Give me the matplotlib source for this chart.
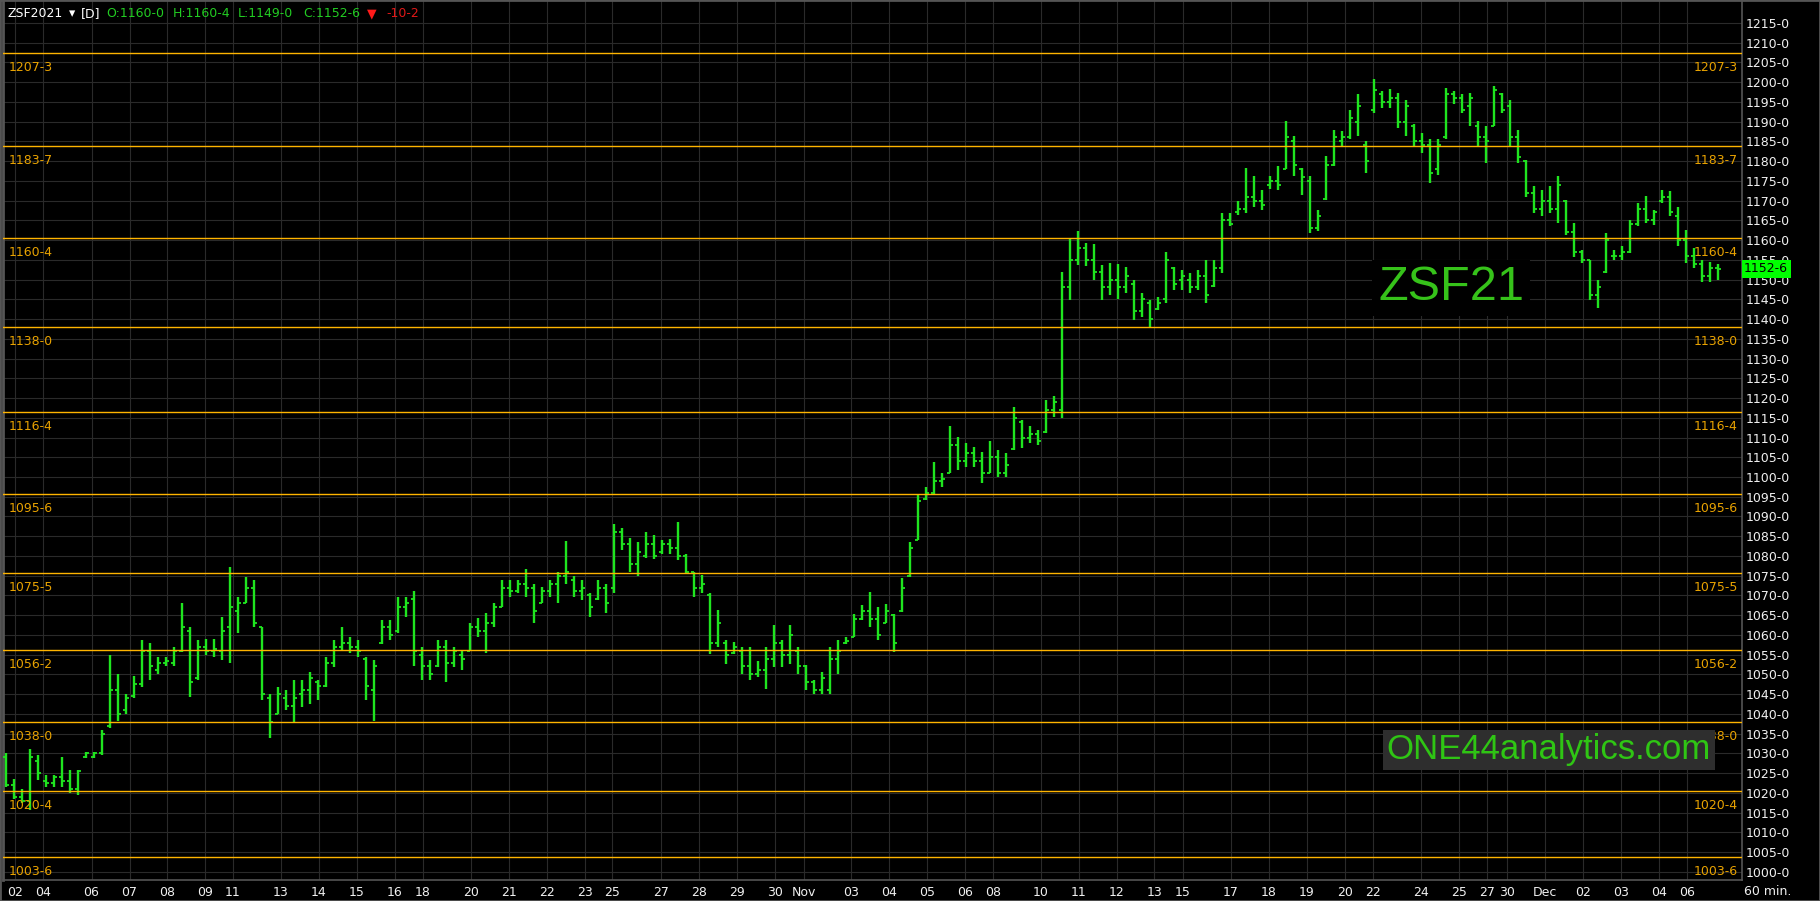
import matplotlib
matplotlib.use("Agg")
import matplotlib.pyplot as plt
import numpy as np

# ZSF2021 60 min bars (one bar per ~4 hourly bars)
highs = [
    1030, 1023.6, 1021, 1031.2, 1029.5, 1024.5, 1024.5, 1029.1, 1025.8, 1025.8,
    1030.4, 1030.4, 1036, 1054.9, 1050, 1045, 1049.5, 1058.7, 1058, 1054.5,
    1054.5, 1057, 1068, 1062, 1058.7, 1059, 1059, 1064.6, 1077.3, 1069.7,
    1074.6, 1073.9, 1062, 1045, 1046.8, 1046, 1048.5, 1048.5, 1050.6, 1048.5,
    1054.4, 1058.7, 1062, 1059.5, 1058.7, 1054.4, 1053.6, 1063.8, 1063.8, 1069.7,
    1069.7, 1071.2, 1057, 1053.6, 1058.7, 1058.7, 1057, 1056, 1062.9, 1064.2,
    1065.5, 1068, 1074, 1074, 1074, 1076.6, 1073, 1072.2, 1074, 1076,
    1083.7, 1074.8, 1074, 1070.5, 1074, 1073, 1088, 1087, 1084.5, 1083.5,
    1086, 1085.3, 1084, 1084.4, 1088.6, 1080.6, 1076, 1075.1, 1070.5, 1066.2,
    1058.6, 1058.2, 1056.9, 1056.9, 1053.5, 1056.9, 1062.4, 1058.6, 1062.4, 1056.9,
    1052.3, 1048.5, 1050.6, 1056.9, 1058.6, 1059.5, 1065.4, 1067.5, 1070.9, 1067,
    1067.9, 1065.4, 1074.3, 1083.6, 1095.8, 1097.5, 1103.9, 1100.9, 1112.8, 1110.2,
    1108.5, 1107.7, 1106.4, 1109, 1106.8, 1106, 1117.8, 1114.5, 1112.8, 1112,
    1119.5, 1120.4, 1152, 1160.6, 1162.3, 1159.3, 1158.9, 1153.8, 1154.2, 1154,
    1153.3, 1149.9, 1146.5, 1144.8, 1145.7, 1157.1, 1153.3, 1152.5, 1151.6, 1152.5,
    1155, 1155, 1166.9, 1166.9, 1169.8, 1178.3, 1176.2, 1172.8, 1176.2, 1178.7,
    1190.1, 1186.3, 1178.3, 1176.2, 1167.7, 1181.2, 1188, 1187.6, 1193, 1196.9,
    1185, 1200.7, 1197.8, 1198.2, 1197.3, 1195.6, 1189.3, 1187.2, 1185.5, 1185.5,
    1198.6, 1197.8, 1196.9, 1197.3, 1190.1, 1188.9, 1199, 1197.3, 1195.6, 1188,
    1180.4, 1173.6, 1172.8, 1173.6, 1176.2, 1170.2, 1164.3, 1157.5, 1155, 1149.9,
    1161.8, 1157.5, 1158.4, 1165.2, 1169.4, 1171.1, 1167.7, 1172.8, 1172.4, 1168.5,
    1162.6, 1158, 1155, 1154.5, 1154,
]
lows = [
    1021.5, 1018.5, 1017.3, 1015.6, 1023.2, 1021.5, 1021.5, 1021.5, 1020, 1019.4,
    1028.7, 1028.7, 1029.5, 1036.5, 1038.3, 1040, 1044, 1046.8, 1048.5, 1050,
    1052, 1052, 1055.7, 1044.3, 1048.5, 1055, 1054.4, 1053.6, 1053, 1060.4,
    1068, 1062, 1043.4, 1034, 1040, 1041, 1037.7, 1041.7, 1042.6, 1043.4,
    1046.8, 1051.9, 1056, 1055.3, 1054.4, 1043.4, 1038.2, 1057.8, 1058.7, 1060.4,
    1064.6, 1052, 1048.5, 1048.5, 1051.9, 1048, 1051.9, 1051, 1056, 1059.5,
    1055.3, 1062, 1067, 1069.7, 1070.5, 1069.7, 1062.9, 1068, 1069.7, 1068,
    1073, 1069.7, 1068.8, 1064.6, 1068.8, 1065.5, 1070.5, 1081.5, 1076, 1075,
    1079.5, 1079.3, 1080.6, 1080.6, 1079, 1075.6, 1069.6, 1070.5, 1055.2, 1057,
    1052.7, 1055.2, 1050.2, 1048.5, 1049.3, 1046.4, 1051.8, 1051.8, 1052.7, 1050.2,
    1046, 1045.1, 1045.1, 1045.1, 1050.2, 1057.8, 1059.5, 1063.7, 1062, 1058.6,
    1062.9, 1055.7, 1065.8, 1074.7, 1084, 1094.2, 1095.8, 1097.5, 1100.9, 1101.8,
    1102.6, 1102.6, 1098.4, 1100.9, 1100, 1100, 1106.8, 1107.3, 1108.5, 1108.1,
    1111.1, 1115.3, 1115, 1144.9, 1153.8, 1153.4, 1150, 1144.9, 1146.2, 1145,
    1146.5, 1139.8, 1140.6, 1138.1, 1142.3, 1144, 1147.4, 1147.4, 1146.5, 1147.4,
    1144, 1148.2, 1151.6, 1163.5, 1166.4, 1166.9, 1168.5, 1167.7, 1173, 1172.8,
    1177.9, 1176.2, 1171.5, 1161.8, 1162.2, 1170.2, 1178.7, 1183.8, 1185.5, 1186.3,
    1177, 1192.2, 1193.5, 1193.5, 1188.4, 1186.3, 1183.8, 1182.1, 1174.5, 1176.6,
    1185.5, 1194.4, 1192.2, 1188.9, 1183.8, 1179.5, 1188.9, 1192.2, 1183.8, 1179.5,
    1171, 1166.9, 1166, 1166.9, 1164.3, 1161.3, 1155.8, 1154.1, 1144.8, 1142.7,
    1151.6, 1155, 1155, 1156.7, 1163.5, 1164.3, 1163.9, 1169.4, 1166, 1158.4,
    1154.1, 1153, 1149.5, 1149.5, 1150,
]
opens = [
    1029, 1022, 1019, 1018, 1028, 1023, 1022.5, 1024, 1023, 1021,
    1029, 1029, 1030, 1037, 1046, 1041, 1044.5, 1047.5, 1056, 1051,
    1053, 1053, 1056, 1061, 1049, 1057, 1056, 1056, 1062, 1066,
    1068, 1072, 1062, 1044, 1040, 1044, 1042, 1045, 1046, 1048,
    1047, 1053, 1057, 1058, 1057, 1054, 1046, 1058, 1062, 1061,
    1067, 1069, 1055, 1052, 1052, 1057, 1053, 1055, 1056, 1062,
    1061, 1063, 1067, 1072, 1071, 1073, 1072, 1068, 1071, 1073,
    1075, 1074, 1071, 1070, 1069, 1072, 1072, 1086, 1083, 1078,
    1080, 1083, 1081, 1083, 1082, 1080, 1076, 1072, 1070, 1058,
    1058, 1055.5, 1056, 1052, 1050, 1051, 1054, 1058, 1055, 1056,
    1052, 1048, 1046, 1046, 1054, 1058, 1059.5, 1064, 1066, 1064,
    1063, 1065, 1066, 1075, 1084, 1094.5, 1096, 1099, 1101, 1108,
    1104, 1106, 1104, 1101, 1105, 1101, 1107, 1114, 1110, 1111,
    1111.5, 1117, 1117, 1148, 1155, 1158, 1155, 1152, 1148, 1150,
    1148, 1149, 1142, 1144, 1142.5, 1145, 1153, 1150, 1150, 1148,
    1151, 1148.5, 1153, 1165, 1167, 1168, 1171, 1170, 1174, 1175,
    1178, 1185, 1178, 1175, 1163, 1170.5, 1179, 1185, 1186, 1190,
    1184, 1193, 1197, 1195, 1196, 1190, 1189, 1185, 1184, 1178,
    1186, 1197, 1196, 1194, 1189, 1186, 1189, 1197, 1194, 1186,
    1180, 1172, 1168, 1170, 1168, 1170, 1162, 1157, 1155, 1146,
    1152, 1156, 1156, 1157, 1164, 1168, 1165, 1170, 1171, 1166,
    1160, 1156, 1154, 1151, 1153,
]
closes = [
    1022, 1019, 1018, 1029, 1025, 1022.5, 1024, 1023, 1021, 1025.5,
    1030, 1030, 1035, 1046, 1040, 1044, 1047.5, 1056, 1052, 1053,
    1053.5, 1056, 1062, 1048, 1057, 1056, 1056.5, 1061, 1067, 1068,
    1072, 1063, 1045, 1038, 1045, 1042, 1044, 1046, 1049, 1047,
    1053, 1057, 1058, 1057, 1056, 1047, 1052, 1062, 1060, 1067,
    1068, 1056, 1052, 1050, 1057, 1053, 1056, 1054, 1062, 1061,
    1063, 1067, 1072, 1071, 1073, 1072, 1066, 1071, 1073, 1075,
    1076, 1071, 1072, 1067, 1072, 1068, 1086, 1083, 1078, 1081,
    1083, 1080, 1083, 1082, 1080, 1076, 1072, 1073, 1058, 1063,
    1055, 1057, 1052, 1050, 1051, 1054, 1058, 1055, 1060, 1052,
    1048, 1046, 1049, 1054, 1056, 1058.5, 1064, 1066, 1064, 1060,
    1066, 1058, 1072, 1082, 1094, 1096, 1099, 1099.5, 1108, 1104,
    1106, 1104, 1101, 1105, 1101, 1103, 1115, 1110, 1111, 1109,
    1117, 1119, 1148, 1155, 1158, 1155, 1152, 1148, 1150, 1148,
    1151, 1142, 1145, 1140, 1144, 1155, 1149, 1151, 1148, 1151,
    1146, 1153, 1165, 1164, 1168, 1171, 1170, 1169, 1175, 1174,
    1186, 1179, 1176, 1163, 1166, 1179, 1186, 1186, 1191, 1194,
    1180, 1198, 1195, 1196, 1190, 1194, 1185, 1184, 1177, 1184,
    1197, 1196, 1193, 1196, 1186, 1185, 1198, 1193, 1186, 1181,
    1172, 1168, 1170, 1168, 1174, 1162, 1157, 1155, 1146, 1148,
    1160, 1156, 1157, 1164, 1168, 1165, 1167, 1171, 1167, 1160,
    1156, 1154, 1151, 1153, 1152.75,
]

# horizontal levels (price in 1/8 cents)
level_prices = [1207.375, 1183.875, 1160.5, 1138.0, 1116.5, 1095.75,
                1075.625, 1056.25, 1038.0, 1020.5, 1003.75]
level_labels = ["1207-3", "1183-7", "1160-4", "1138-0", "1116-4", "1095-6",
                "1075-5", "1056-2", "1038-0", "1020-4", "1003-6"]

# session date labels (position in bar units)
date_pos = [1.09, 4.66, 10.69, 15.44, 20.18, 24.93, 28.38, 34.38, 39.13, 43.88,
            48.58, 52.13, 58.13, 62.88, 67.63, 72.38, 75.81, 81.84, 86.63, 91.38,
            96.13, 99.7, 105.63, 110.38, 115.13, 119.88, 123.38, 129.38, 134.13,
            138.88, 143.56, 147.13, 153.13, 157.88, 162.63, 167.38, 170.88,
            176.88, 181.63, 185.13, 187.63, 192.38, 197.13, 201.88, 206.63, 210.13]
date_labels = ["02", "04", "06", "07", "08", "09", "11", "13", "14", "15",
               "16", "18", "20", "21", "22", "23", "25", "27", "28", "29",
               "30", "Nov", "03", "04", "05", "06", "08", "10", "11",
               "12", "13", "15", "17", "18", "19", "20", "22",
               "24", "25", "27", "30", "Dec", "02", "03", "04", "06"]

price_ticks = np.arange(1000, 1216, 5)

GREEN = "#1fe51f"
ORANGE = "#ffb400"
ORANGE_TXT = "#e8a200"
GRID = "#2a2a2a"

W, H = 1820, 901
fig = plt.figure(figsize=(W / 100, H / 100), dpi=100, facecolor="black")
ax = fig.add_axes([3 / W, (H - 880) / H, 1739 / W, 879 / H])
ax.set_facecolor("black")

x = np.arange(len(highs))
ax.vlines(x, lows, highs, color=GREEN, lw=1.7, zorder=3)
ax.hlines(opens, x - 0.42, x, color=GREEN, lw=1.3, zorder=3)
ax.hlines(closes, x, x + 0.42, color=GREEN, lw=1.3, zorder=3)

ytr = ax.get_yaxis_transform()
for p, lab in zip(level_prices, level_labels):
    ax.axhline(p, color=ORANGE, lw=1.0, zorder=4)
    ax.annotate(lab, xy=(0.0035, p), xycoords=ytr, xytext=(0, -10.5),
                textcoords="offset points", ha="left", va="center",
                color=ORANGE_TXT, fontsize=9, zorder=4)
    ax.annotate(lab, xy=(0.9975, p), xycoords=ytr, xytext=(0, -10.5),
                textcoords="offset points", ha="right", va="center",
                color=ORANGE_TXT, fontsize=9, zorder=4)

ax.set_xlim(-0.375, 217)
ax.set_ylim(997.92, 1220.57)

ax.yaxis.tick_right()
ax.set_yticks(price_ticks)
ax.set_yticklabels([f"{p}-0" for p in price_ticks])
ax.set_xticks(date_pos)
ax.set_xticklabels(date_labels)
ax.tick_params(axis="y", length=0, pad=3, colors="#f0f0f0", labelsize=9)
ax.tick_params(axis="x", length=0, pad=4, colors="#f0f0f0", labelsize=9)
ax.grid(True, color=GRID, lw=0.8)
ax.set_axisbelow(True)

for side in ["left", "bottom", "right"]:
    ax.spines[side].set_color("#555555")
    ax.spines[side].set_linewidth(1.2)
ax.spines["left"].set_linewidth(2.0)
ax.spines["top"].set_visible(False)

# last price marker
ax.text(1.0012, closes[-1], "1152-6", transform=ytr, ha="left", va="center",
        color="black", fontsize=9, zorder=6, clip_on=False,
        bbox=dict(boxstyle="square,pad=0.2", fc="#00ff00", ec="none"))

# symbol and watermark
ax.text(0.8327, 0.6735, "ZSF21", transform=ax.transAxes, ha="center", va="center",
        color="#36c21a", fontsize=35, family="Liberation Sans", zorder=5,
        bbox=dict(boxstyle="square,pad=0.12", fc="black", ec="none"))
ax.text(0.889, 0.1479, "ONE44analytics.com", transform=ax.transAxes,
        ha="center", va="center", color="#2fc514", fontsize=25,
        family="Liberation Sans", zorder=5,
        bbox=dict(boxstyle="square,pad=0.1", fc="#2e2e2e", ec="none"))

# header line
hy = 1 - 13.5 / H
header = [
    (7, "ZSF2021", "white"), (69, "\u25BE", "white"), (81, "[D]", "white"),
    (106, "O:1160-0", "#22cc22"), (173, "H:1160-4", "#22cc22"),
    (238, "L:1149-0", "#22cc22"), (303, "C:1152-6", "#22cc22"),
    (367, "\u25BC", "#ff1a1a"), (386, "-10-2", "#e01818"),
]
for px, txt, col in header:
    fig.text(px / W, hy, txt, ha="left", va="center", color=col, fontsize=9)

fig.text(1768 / W, 1 - 891.7 / H, "60 min.", ha="center", va="center",
         color="#f0f0f0", fontsize=9)

fig.patches.append(plt.Rectangle((0, 0), 1, 1, transform=fig.transFigure,
                                 fill=False, ec="#555555", lw=2))

fig.savefig("out.png", dpi=100, facecolor="black")
